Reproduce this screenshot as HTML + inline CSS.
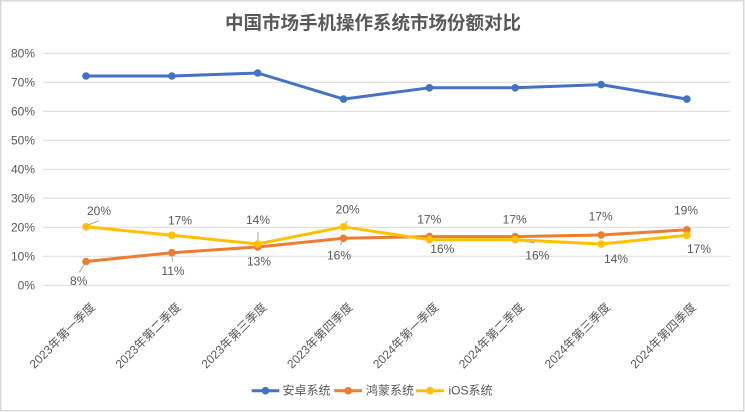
<!DOCTYPE html>
<html><head><meta charset="utf-8"><style>
html,body{margin:0;padding:0;background:#fff;}
svg{display:block;}
text{font-family:"Liberation Sans","Noto Sans CJK SC",sans-serif;fill:#595959;}
</style></head><body>
<svg width="745" height="412" viewBox="0 0 745 412" xmlns="http://www.w3.org/2000/svg">
<rect x="0" y="0" width="745" height="412" fill="#fff"/>
<rect x="0.75" y="0.75" width="743" height="410" fill="none" stroke="#d9d9d9" stroke-width="1.5"/>
<text x="373" y="23" text-anchor="middle" dominant-baseline="central" font-size="18.5" font-weight="bold">中国市场手机操作系统市场份额对比</text>
<g stroke="#d9d9d9" stroke-width="1">
<line x1="43" x2="730" y1="53.3" y2="53.3"/>
<line x1="43" x2="730" y1="82.3" y2="82.3"/>
<line x1="43" x2="730" y1="111.3" y2="111.3"/>
<line x1="43" x2="730" y1="140.3" y2="140.3"/>
<line x1="43" x2="730" y1="169.3" y2="169.3"/>
<line x1="43" x2="730" y1="198.3" y2="198.3"/>
<line x1="43" x2="730" y1="227.3" y2="227.3"/>
<line x1="43" x2="730" y1="256.3" y2="256.3"/>
<line x1="43" x2="730" y1="285.3" y2="285.3"/>
</g>
<g font-size="12" text-anchor="end" dominant-baseline="central">
<text x="35" y="53.3">80%</text>
<text x="35" y="82.3">70%</text>
<text x="35" y="111.3">60%</text>
<text x="35" y="140.3">50%</text>
<text x="35" y="169.3">40%</text>
<text x="35" y="198.3">30%</text>
<text x="35" y="227.3">20%</text>
<text x="35" y="256.3">10%</text>
<text x="35" y="285.3">0%</text>
</g>
<g font-size="12" text-anchor="end" dominant-baseline="central">
<text transform="translate(93,305) rotate(-45)">2023年第一季度</text>
<text transform="translate(178.8,305) rotate(-45)">2023年第二季度</text>
<text transform="translate(264.7,305) rotate(-45)">2023年第三季度</text>
<text transform="translate(350.5,305) rotate(-45)">2023年第四季度</text>
<text transform="translate(436.4,305) rotate(-45)">2024年第一季度</text>
<text transform="translate(522.2,305) rotate(-45)">2024年第二季度</text>
<text transform="translate(608.1,305) rotate(-45)">2024年第三季度</text>
<text transform="translate(693.9,305) rotate(-45)">2024年第四季度</text>
</g>
<!-- leader lines -->
<g stroke="#a6a6a6" stroke-width="1" fill="none">
<line x1="87" y1="225.5" x2="99" y2="220.7"/>
<line x1="84" y1="265" x2="79.3" y2="272.3"/>
<line x1="172.3" y1="256.7" x2="172.3" y2="261.7"/>
<line x1="258" y1="231.7" x2="258" y2="241.7"/>
<line x1="344" y1="225.5" x2="347.5" y2="221"/>
<line x1="342.8" y1="240" x2="340.5" y2="245"/>
<line x1="517" y1="240" x2="535" y2="243"/>
</g>
<!-- Android -->
<polyline fill="none" stroke="#4472c4" stroke-width="3" stroke-linejoin="round" points="86,76.0 171.8,76.0 257.7,73.0 343.5,99.1 429.4,87.8 515.2,87.8 601.1,84.6 686.9,99.1"/>
<g fill="#4472c4">
<circle cx="86" cy="76.0" r="3.8"/><circle cx="171.8" cy="76.0" r="3.8"/><circle cx="257.7" cy="73.0" r="3.8"/><circle cx="343.5" cy="99.1" r="3.8"/><circle cx="429.4" cy="87.8" r="3.8"/><circle cx="515.2" cy="87.8" r="3.8"/><circle cx="601.1" cy="84.6" r="3.8"/><circle cx="686.9" cy="99.1" r="3.8"/>
</g>
<!-- Hongmeng -->
<polyline fill="none" stroke="#ed7d31" stroke-width="3" stroke-linejoin="round" points="86,261.5 171.8,252.7 257.7,247 343.5,238.3 429.4,236.6 515.2,236.6 601.1,235 686.9,229.8"/>
<g fill="#ed7d31">
<circle cx="86" cy="261.5" r="3.8"/><circle cx="171.8" cy="252.7" r="3.8"/><circle cx="257.7" cy="247" r="3.8"/><circle cx="343.5" cy="238.3" r="3.8"/><circle cx="429.4" cy="236.6" r="3.8"/><circle cx="515.2" cy="236.6" r="3.8"/><circle cx="601.1" cy="235" r="3.8"/><circle cx="686.9" cy="229.8" r="3.8"/>
</g>
<!-- iOS -->
<polyline fill="none" stroke="#ffc000" stroke-width="3" stroke-linejoin="round" points="86,226.8 171.8,235.3 257.7,244 343.5,226.8 429.4,239.7 515.2,239.7 601.1,244 686.9,235.3"/>
<g fill="#ffc000">
<circle cx="86" cy="226.8" r="3.8"/><circle cx="171.8" cy="235.3" r="3.8"/><circle cx="257.7" cy="244" r="3.8"/><circle cx="343.5" cy="226.8" r="3.8"/><circle cx="429.4" cy="239.7" r="3.8"/><circle cx="515.2" cy="239.7" r="3.8"/><circle cx="601.1" cy="244" r="3.8"/><circle cx="686.9" cy="235.3" r="3.8"/>
</g>
<!-- data labels -->
<g font-size="12" text-anchor="middle" dominant-baseline="central">
<text x="99" y="211">20%</text>
<text x="180" y="220.7">17%</text>
<text x="258" y="220">14%</text>
<text x="347.7" y="209.3">20%</text>
<text x="442.3" y="249">16%</text>
<text x="537.3" y="255.7">16%</text>
<text x="616" y="259">14%</text>
<text x="699" y="249">17%</text>
<text x="78.7" y="281">8%</text>
<text x="173" y="271">11%</text>
<text x="259" y="261.7">13%</text>
<text x="339" y="255.3">16%</text>
<text x="429.3" y="219.3">17%</text>
<text x="514.7" y="219.3">17%</text>
<text x="600.7" y="216.7">17%</text>
<text x="686" y="210.7">19%</text>
</g>
<!-- legend -->
<g stroke-width="3">
<line x1="251.7" y1="390.7" x2="279.3" y2="390.7" stroke="#4472c4"/>
<line x1="334.3" y1="390.7" x2="362" y2="390.7" stroke="#ed7d31"/>
<line x1="416" y1="390.7" x2="444" y2="390.7" stroke="#ffc000"/>
</g>
<circle cx="265.5" cy="390.7" r="3.8" fill="#4472c4"/>
<circle cx="348.2" cy="390.7" r="3.8" fill="#ed7d31"/>
<circle cx="430" cy="390.7" r="3.8" fill="#ffc000"/>
<g font-size="12" dominant-baseline="central">
<text x="282.5" y="390.7">安卓系统</text>
<text x="366" y="390.7">鸿蒙系统</text>
<text x="448.5" y="390.7">iOS系统</text>
</g>
</svg>
</body></html>
